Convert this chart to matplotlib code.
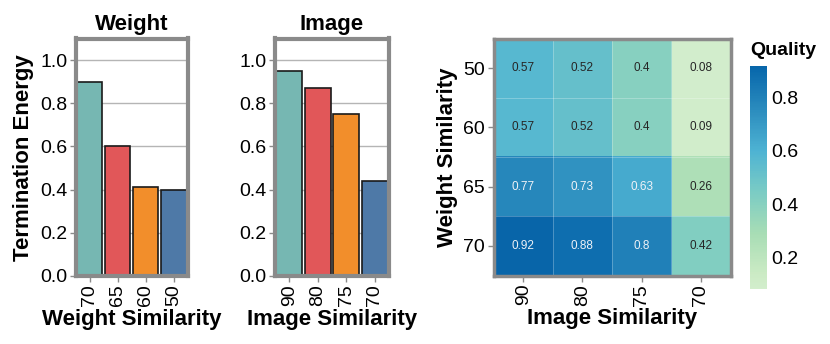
import matplotlib
matplotlib.use("Agg")
import matplotlib.pyplot as plt
import numpy as np
from matplotlib.colors import LinearSegmentedColormap

plt.rcParams['font.family'] = ['Liberation Sans', 'DejaVu Sans']

# data
weight_labels = ["70", "65", "60", "50"]
weight_energy = [0.90, 0.60, 0.41, 0.40]
image_labels = ["90", "80", "75", "70"]
image_energy = [0.95, 0.87, 0.75, 0.44]

heat_rows = ["50", "60", "65", "70"]   # weight similarity
heat_cols = ["90", "80", "75", "70"]   # image similarity
quality = [
    [0.57, 0.52, 0.40, 0.08],
    [0.57, 0.52, 0.40, 0.09],
    [0.77, 0.73, 0.63, 0.26],
    [0.92, 0.88, 0.80, 0.42],
]

bar_colors = ["#76b7b2", "#e15759", "#f28e2b", "#4e79a7"]
frame_gray = "#8a8a8a"

W, H = 830, 344
fig = plt.figure(figsize=(W / 100, H / 100), dpi=100)


def box(x0, y0, x1, y1):
    return [x0 / W, 1 - y1 / H, (x1 - x0) / W, (y1 - y0) / H]


def bar_panel(ax, labels, values, title, xlabel, ylabel=None):
    x = np.arange(len(values))
    ax.set_axisbelow(True)
    ax.yaxis.grid(True, color="#b5b5b5", linewidth=1)
    ax.bar(x, values, width=0.9, color=bar_colors, edgecolor="#1a1a1a", linewidth=1.2)
    ax.set_xlim(-0.5, 3.5)
    ax.set_ylim(0, 1.1)
    ax.set_yticks([0, 0.2, 0.4, 0.6, 0.8, 1.0])
    ax.set_yticklabels(["0.0", "0.2", "0.4", "0.6", "0.8", "1.0"])
    ax.set_xticks(x)
    ax.set_xticklabels(labels, rotation=90)
    ax.tick_params(axis="both", labelsize=14, color=frame_gray, length=4, width=1, pad=2)
    for s in ax.spines.values():
        s.set_color(frame_gray)
        s.set_linewidth(3)
    ax.set_title(title, fontsize=16, fontweight="bold", pad=6)
    ax.set_xlabel(xlabel, fontsize=16, fontweight="bold", labelpad=2)
    if ylabel:
        ax.set_ylabel(ylabel, fontsize=16, fontweight="bold", labelpad=4)


ax1 = fig.add_axes(box(75.5, 38.5, 188, 276))
bar_panel(ax1, weight_labels, weight_energy, "Weight", "Weight Similarity", "Termination Energy")

ax2 = fig.add_axes(box(275, 38.5, 389, 276))
bar_panel(ax2, image_labels, image_energy, "Image", "Image Similarity")

# heatmap
base = plt.get_cmap("GnBu")
cmap = LinearSegmentedColormap.from_list("gnbu_cut", base(np.linspace(0.21, 0.88, 256)))
data = np.array(quality)
ax3 = fig.add_axes(box(493.5, 38.5, 730.5, 275.5))
im = ax3.imshow(data, cmap=cmap, vmin=data.min(), vmax=data.max(), aspect="auto")
for i in range(data.shape[0] + 1):
    ax3.axhline(i - 0.5, color="white", linewidth=0.6, alpha=0.3)
for j in range(data.shape[1] + 1):
    ax3.axvline(j - 0.5, color="white", linewidth=0.6, alpha=0.3)
for i in range(data.shape[0]):
    for j in range(data.shape[1]):
        v = data[i, j]
        ax3.text(j, i, f"{v:g}", ha="center", va="center", fontsize=8.5,
                 color="#eef2f7" if v >= 0.6 else "#262626")
ax3.set_xticks(range(len(heat_cols)))
ax3.set_xticklabels(heat_cols, rotation=90)
ax3.set_yticks(range(len(heat_rows)))
ax3.set_yticklabels(heat_rows)
ax3.tick_params(axis="both", labelsize=14, color=frame_gray, length=4, width=1, pad=2)
for s in ax3.spines.values():
    s.set_color(frame_gray)
    s.set_linewidth(2.5)
ax3.set_xlabel("Image Similarity", fontsize=16, fontweight="bold", labelpad=2)
ax3.set_ylabel("Weight Similarity", fontsize=16, fontweight="bold", labelpad=4)

cax = fig.add_axes(box(750, 66, 767, 289))
cb = fig.colorbar(im, cax=cax)
cb.outline.set_visible(False)
cb.set_ticks([0.2, 0.4, 0.6, 0.8])
cb.ax.tick_params(labelsize=14, length=0, pad=3)
cax.set_title("Quality", fontsize=14, fontweight="bold", pad=8, loc="left")

fig.savefig("out.png", dpi=100)
